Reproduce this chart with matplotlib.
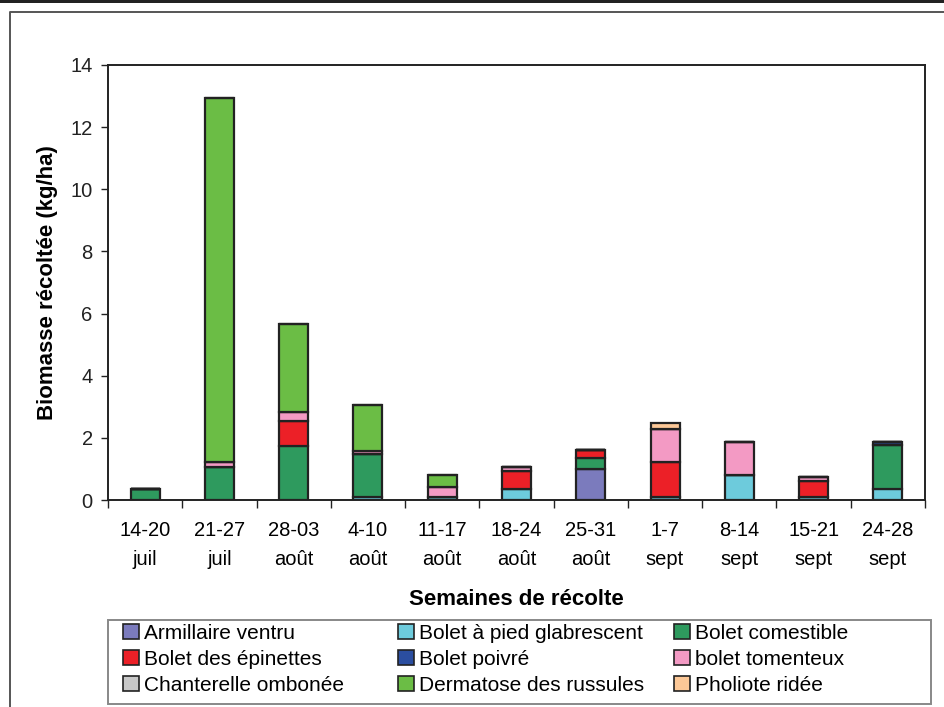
import matplotlib
matplotlib.use("Agg")
import matplotlib.pyplot as plt
from matplotlib.lines import Line2D
from matplotlib.patches import Rectangle
import numpy as np

plt.rcParams['font.family'] = ['Liberation Sans', 'DejaVu Sans']

# semaines de récolte
semaines = ["14-20\njuil", "21-27\njuil", "28-03\naoût", "4-10\naoût", "11-17\naoût",
            "18-24\naoût", "25-31\naoût", "1-7\nsept", "8-14\nsept", "15-21\nsept",
            "24-28\nsept"]

# biomasse par espèce (kg/ha)
armillaire = [0, 0, 0, 0, 0, 0, 0.99, 0, 0, 0, 0]
glabrescent = [0, 0, 0, 0.11, 0.11, 0.35, 0, 0.11, 0.79, 0.11, 0.36]
comestible = [0.37, 1.05, 1.73, 1.37, 0, 0, 0.36, 0, 0, 0, 1.42]
epinettes = [0, 0, 0.80, 0, 0, 0.58, 0.26, 1.12, 0, 0.50, 0]
poivre = [0, 0, 0, 0, 0, 0, 0, 0, 0, 0, 0.08]
tomenteux = [0, 0.18, 0.31, 0.11, 0.31, 0.12, 0, 1.05, 1.07, 0.12, 0]
chanterelle = [0, 0, 0, 0, 0, 0, 0, 0, 0, 0, 0]
dermatose = [0, 11.70, 2.81, 1.46, 0.37, 0, 0, 0, 0, 0, 0]
pholiote = [0, 0, 0, 0, 0, 0, 0, 0.20, 0, 0, 0]

especes = ["Armillaire ventru", "Bolet à pied glabrescent", "Bolet comestible",
           "Bolet des épinettes", "Bolet poivré", "bolet tomenteux",
           "Chanterelle ombonée", "Dermatose des russules", "Pholiote ridée"]
series = [armillaire, glabrescent, comestible, epinettes, poivre, tomenteux,
          chanterelle, dermatose, pholiote]
couleurs = ["#7b7bbd", "#6dcbdc", "#2e9a5e", "#ec2027", "#2b4ea0", "#f39ac4",
            "#c8c8c8", "#6bbd45", "#fcc897"]

W, H = 945, 707
fig = plt.figure(figsize=(W / 100, H / 100), dpi=100)
ax = fig.add_axes([108 / W, 1 - 500 / H, 817 / W, 435 / H])

x = np.arange(len(semaines))
bas = np.zeros(len(semaines))
handles = []
for nom, vals, c in zip(especes, series, couleurs):
    vals = np.array(vals)
    ax.bar(x, vals, 0.39, bottom=bas, color=c, edgecolor="#222222", linewidth=1.6,
           zorder=3)
    bas += vals
    handles.append(Rectangle((0, 0), 1, 1, facecolor=c, edgecolor="#222222",
                             linewidth=1.2))

ax.set_xlim(-0.5, len(semaines) - 0.5)
ax.set_ylim(0, 14)
ax.set_yticks(range(0, 15, 2))
ax.tick_params(axis="y", labelsize=14.5, length=5, width=1, direction="out",
               pad=6, colors="#222222")
ax.set_xticks(x)
ax.set_xticklabels(semaines, fontsize=14.5, linespacing=1.7)
ax.set_xticks(np.arange(-0.5, len(semaines), 1), minor=True)
ax.tick_params(axis="x", which="major", length=0, pad=15)
ax.tick_params(axis="x", which="minor", length=6, width=1, color="#222222")
for s in ax.spines.values():
    s.set_linewidth(1.4)
    s.set_color("#222222")

ax.set_ylabel("Biomasse récoltée (kg/ha)", fontsize=16, fontweight="bold",
              labelpad=9)
ax.set_xlabel("Semaines de récolte", fontsize=16, fontweight="bold", labelpad=14)

# légende : cadre commun et trois colonnes placées à la main
fig.add_artist(Rectangle((108 / W, 1 - 704 / H), 823 / W, 84 / H,
                         transform=fig.transFigure, facecolor="white",
                         edgecolor="#888888", linewidth=1.4))
colonnes = [(123, [0, 3, 6]), (398, [1, 4, 7]), (674, [2, 5, 8])]
for xpix, idx in colonnes:
    leg = fig.legend([handles[i] for i in idx], [especes[i] for i in idx],
                     loc="upper left", bbox_to_anchor=(xpix / W, 1 - 624 / H),
                     fontsize=15, frameon=False, handlelength=0.75,
                     handleheight=0.75, handletextpad=0.25, labelspacing=0.33,
                     borderpad=0, borderaxespad=0)

# cadre de la figure
fig.add_artist(Rectangle((0, 1 - 3 / H), 1, 3 / H, transform=fig.transFigure,
                         facecolor="#222222", edgecolor="none"))
fig.add_artist(Line2D([10 / W, 10 / W, 1], [0, 1 - 12 / H, 1 - 12 / H],
                      transform=fig.transFigure, color="#555555", linewidth=1.4))

fig.savefig("out.png", dpi=100)
